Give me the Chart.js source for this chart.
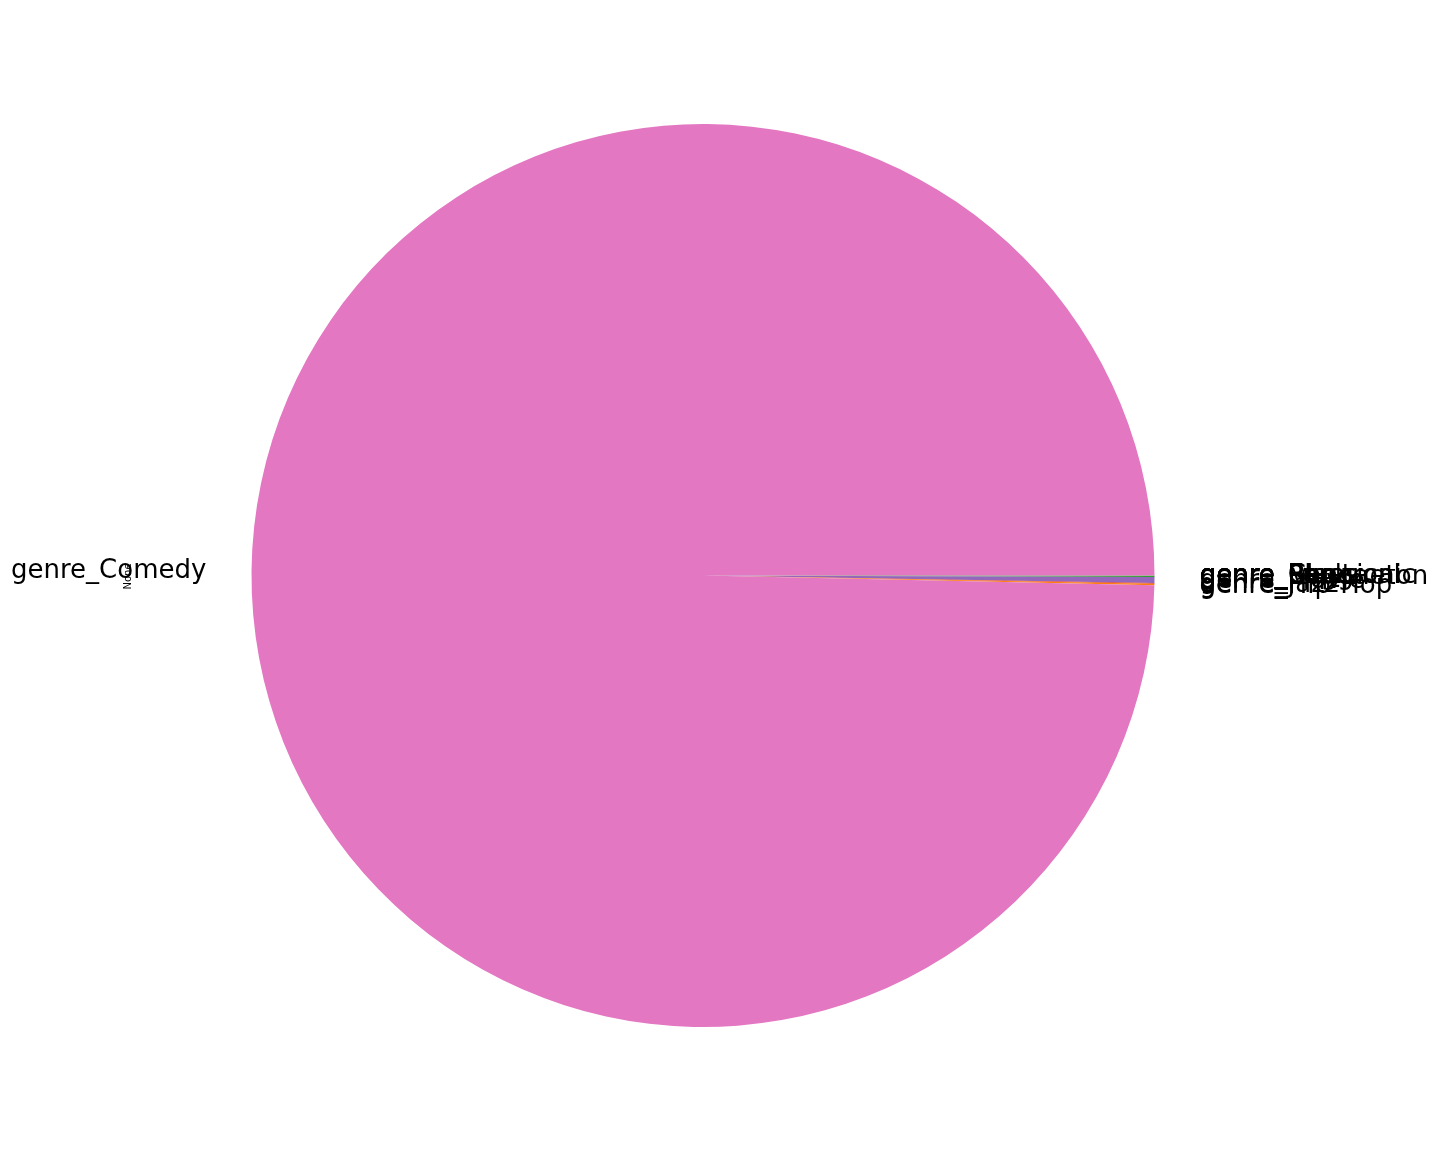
<!DOCTYPE html>
<html>
<head>
<meta charset="utf-8">
<script src="https://cdn.jsdelivr.net/npm/chart.js@4/dist/chart.umd.min.js"></script>
<style>
  html, body { margin: 0; padding: 0; background: #ffffff; }
  #wrap { position: relative; width: 1440px; height: 1152px; }
</style>
</head>
<body>
<div id="wrap"><canvas id="c" width="1440" height="1152"></canvas></div>
<script>
// Wedges in the order they are drawn counter-clockwise from 3 o'clock (matplotlib order)
const genres = [
  "genre_Blues", "genre_Classical", "genre_Electronic", "genre_Pop", "genre_Rap", "genre_Rock",
  "genre_Comedy",
  "genre_Hip-Hop", "genre_Jazz", "genre_Movie", "genre_Reggaeton"
];
const counts = [0, 0, 0, 0, 0, 0, 9966, 5, 3, 21, 5];
const colors = [
  "#1f77b4", "#ff7f0e", "#2ca02c", "#d62728", "#9467bd", "#8c564b",
  "#e377c2",
  "#ff7f0e", "#d62728", "#9467bd", "#2ca02c"
];
const yAxisLabel = "None";

// Chart.js draws clockwise, so reverse the order to mimic a counter-clockwise pie
const labelsR = genres.slice().reverse();
const dataR = counts.slice().reverse();
const colorsR = colors.slice().reverse();

const outsideLabels = {
  id: 'outsideLabels',
  afterDatasetsDraw(chart) {
    const ctx = chart.ctx;
    const meta = chart.getDatasetMeta(0);
    ctx.save();
    ctx.font = '26px "DejaVu Sans"';
    ctx.fillStyle = '#000000';
    ctx.textBaseline = 'middle';
    let cy = 0;
    meta.data.forEach((arc, i) => {
      const p = arc.getProps(['x', 'y', 'startAngle', 'endAngle', 'outerRadius'], true);
      cy = p.y;
      const mid = (p.startAngle + p.endAngle) / 2;
      const r = p.outerRadius * 1.1;
      const x = p.x + r * Math.cos(mid);
      const y = p.y + r * Math.sin(mid);
      ctx.textAlign = x > p.x ? 'left' : 'right';
      ctx.fillText(chart.data.labels[i], x, y + 1);
    });
    // y-axis label (matplotlib's "None")
    ctx.save();
    ctx.font = '10px "DejaVu Sans"';
    ctx.translate(128.5, cy + 1);
    ctx.rotate(-Math.PI / 2);
    ctx.textAlign = 'center';
    ctx.textBaseline = 'middle';
    ctx.fillText(yAxisLabel, 0, 0);
    ctx.restore();
    ctx.restore();
  }
};

new Chart(document.getElementById('c'), {
  type: 'pie',
  data: {
    labels: labelsR,
    datasets: [{
      data: dataR,
      backgroundColor: colorsR,
      borderWidth: 0,
      hoverOffset: 0
    }]
  },
  options: {
    responsive: false,
    animation: false,
    rotation: 90,
    layout: { padding: { left: 251, right: 285, top: 124, bottom: 125 } },
    plugins: {
      legend: { display: false },
      tooltip: { enabled: false },
      title: { display: false }
    }
  },
  plugins: [outsideLabels]
});
</script>
</body>
</html>
